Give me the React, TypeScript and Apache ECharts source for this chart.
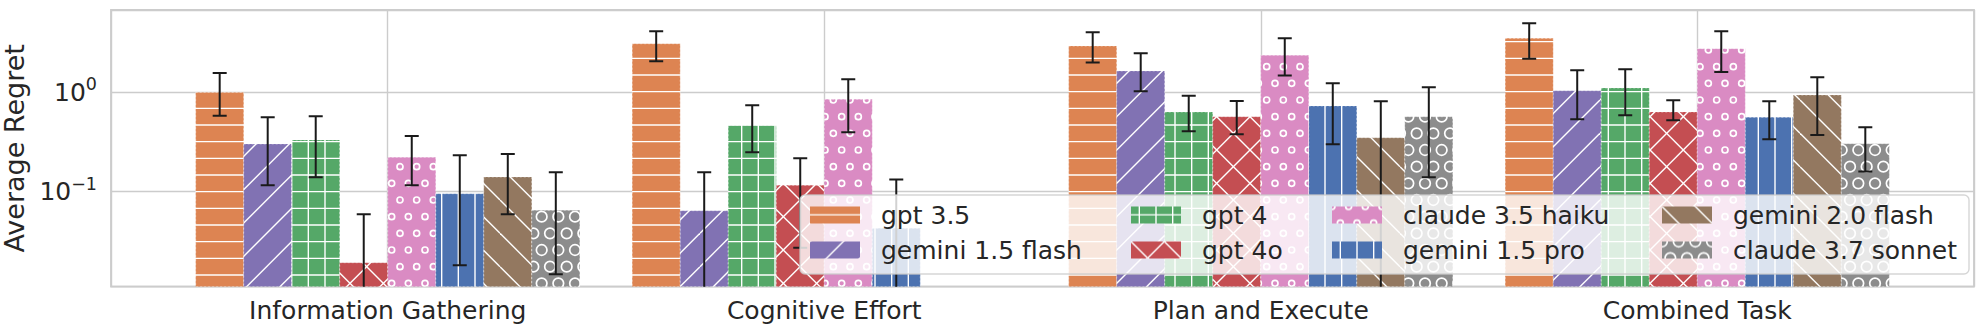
import React, { useEffect, useRef } from 'react';
import * as echarts from 'echarts';

// ---------- data ----------
const categories = ['Information Gathering', 'Cognitive Effort', 'Plan and Execute', 'Combined Task'];
const models = [
  'gpt 3.5',
  'gemini 1.5 flash',
  'gpt 4',
  'gpt 4o',
  'claude 3.5 haiku',
  'gemini 1.5 pro',
  'gemini 2.0 flash',
  'claude 3.7 sonnet',
];

// mean regret per category, and lower / upper ends of the error bars (null = below axis / absent)
const gpt35 = [1.0, 3.08, 2.92, 3.49];
const gpt35Low = [0.581, 2.05, 2.0, 2.18];
const gpt35High = [1.564, 4.11, 4.01, 4.95];

const gemini15Flash = [0.302, 0.0644, 1.638, 1.038];
const gemini15FlashLow = [0.116, null, 1.023, 0.535];
const gemini15FlashHigh = [0.56, 0.1567, 2.47, 1.664];

const gpt4 = [0.331, 0.466, 0.633, 1.105];
const gpt4Low = [0.1396, 0.249, 0.405, 0.587];
const gpt4High = [0.574, 0.74, 0.924, 1.704];

const gpt4o = [0.0193, 0.116, 0.568, 0.633];
const gpt4oLow = [null, 0.0273, 0.378, 0.523];
const gpt4oHigh = [0.0592, 0.217, 0.818, 0.831];

const claude35Haiku = [0.222, 0.85, 2.36, 2.75];
const claude35HaikuLow = [0.116, 0.396, 1.48, 1.6];
const claude35HaikuHigh = [0.363, 1.351, 3.49, 4.11];

const gemini15Pro = [0.0955, 0.0428, 0.728, 0.56];
const gemini15ProLow = [0.0182, null, 0.3, 0.337];
const gemini15ProHigh = [0.2323, 0.133, 1.232, 0.812];

const gemini20Flash = [0.1406, null, 0.349, 0.939];
const gemini20FlashLow = [0.0592, null, null, 0.372];
const gemini20FlashHigh = [0.2396, null, 0.812, 1.416];

const claude37Sonnet = [0.065, null, 0.568, 0.304];
const claude37SonnetLow = [0.01476, null, 0.1396, 0.16];
const claude37SonnetHigh = [0.1567, null, 1.123, 0.445];

// ---------- styling ----------
const FONT = "'DejaVu Sans', sans-serif";
const TEXT = '#262626';
const GRID = '#cccccc';
const ERR = '#1a1a1a';
const BAR_W = 0.11;
const X_MIN = -0.634;
const X_MAX = 3.634;
const Y_MIN = 0.01107;
const Y_MAX = 6.73;

function makePattern(kind: string, color: string) {
  const s = 100 / 6;
  const o = s / 2;
  const d = 100 / 3;
  let body = '';
  const line = (x1: number, y1: number, x2: number, y2: number) =>
    `<line x1="${x1.toFixed(2)}" y1="${y1.toFixed(2)}" x2="${x2.toFixed(2)}" y2="${y2.toFixed(2)}"/>`;
  if (kind === 'h' || kind === 'plus') {
    for (let k = -1; k <= 6; k++) body += line(0, o + k * s, 100, o + k * s);
  }
  if (kind === 'v' || kind === 'plus') {
    for (let k = -1; k <= 6; k++) body += line(o + k * s, 0, o + k * s, 100);
  }
  if (kind === 'ne' || kind === 'x') {
    for (let c = -3; c <= 3; c++) body += line(0, 100 - d * c, 100, -d * c);
  }
  if (kind === 'se' || kind === 'x') {
    for (let c = 0; c <= 6; c++) body += line(0, 100 - d * c, 100, 200 - d * c);
  }
  let circles = '';
  if (kind === 'o' || kind === 'O') {
    const r = kind === 'o' ? 3.0 : 5.3;
    for (let row = 0; row <= 6; row++) {
      const y = 100 - row * s;
      if (row % 2 === 0) {
        for (let k = 0; k <= 6; k++) circles += `<circle cx="${(k * s).toFixed(2)}" cy="${y.toFixed(2)}" r="${r}"/>`;
      } else {
        for (let k = 0; k < 6; k++) circles += `<circle cx="${(o + k * s).toFixed(2)}" cy="${y.toFixed(2)}" r="${r}"/>`;
      }
    }
  }
  const svg =
    `<svg xmlns="http://www.w3.org/2000/svg" width="100" height="100">` +
    `<rect width="100" height="100" fill="${color}"/>` +
    `<g stroke="#ffffff" stroke-width="1.4" fill="none">${body}</g>` +
    `<g stroke="#ffffff" stroke-width="1.7" fill="none">${circles}</g>` +
    `</svg>`;
  return {
    image: 'data:image/svg+xml;charset=utf-8,' + encodeURIComponent(svg),
    repeat: 'repeat',
    imageWidth: 100,
    imageHeight: 100,
  };
}

const seriesDefs = [
  { name: models[0], mean: gpt35, low: gpt35Low, high: gpt35High, color: '#DD8452', hatch: 'h' },
  { name: models[1], mean: gemini15Flash, low: gemini15FlashLow, high: gemini15FlashHigh, color: '#8172B3', hatch: 'ne' },
  { name: models[2], mean: gpt4, low: gpt4Low, high: gpt4High, color: '#55A868', hatch: 'plus' },
  { name: models[3], mean: gpt4o, low: gpt4oLow, high: gpt4oHigh, color: '#C44E52', hatch: 'x' },
  { name: models[4], mean: claude35Haiku, low: claude35HaikuLow, high: claude35HaikuHigh, color: '#DA8BC3', hatch: 'o' },
  { name: models[5], mean: gemini15Pro, low: gemini15ProLow, high: gemini15ProHigh, color: '#4C72B0', hatch: 'v' },
  { name: models[6], mean: gemini20Flash, low: gemini20FlashLow, high: gemini20FlashHigh, color: '#937860', hatch: 'se' },
  { name: models[7], mean: claude37Sonnet, low: claude37SonnetLow, high: claude37SonnetHigh, color: '#8C8C8C', hatch: 'O' },
];

const legendColumns = [[0, 1], [2, 3], [4, 5], [6, 7]];
const legendLefts = [810, 1131, 1332, 1662];

export default function App() {
  const ref = useRef<HTMLDivElement>(null);

  useEffect(() => {
    if (!ref.current) return;
    const chart = echarts.init(ref.current, null, { renderer: 'svg' });
    const nSeries = seriesDefs.length;

    const series = seriesDefs.map((def, si) => {
      const pattern = makePattern(def.hatch, def.color);
      return {
        type: 'custom',
        name: def.name,
        clip: true,
        z: 2,
        itemStyle: { color: pattern },
        encode: { x: 0, y: 1 },
        data: categories.map((_, ci) => [ci, def.mean[ci], def.low[ci], def.high[ci]]),
        renderItem: (params: any, api: any) => {
          const c = Number(api.value(0));
          const v = Number(api.value(1));
          const lo = Number(api.value(2));
          const hi = Number(api.value(3));
          const children: any[] = [];
          if (!isFinite(v) || v <= 0) return { type: 'group', children };
          const xc = c + (si - (nSeries - 1) / 2) * BAR_W;
          const tl = api.coord([xc - BAR_W / 2, v]);
          const br = api.coord([xc + BAR_W / 2, Y_MIN]);
          children.push({
            type: 'rect',
            shape: { x: tl[0], y: tl[1], width: br[0] - tl[0], height: br[1] - tl[1] },
            style: { fill: pattern, stroke: 'rgba(255,255,255,0.45)', lineWidth: 1, lineDash: [2, 2] },
          });
          if (isFinite(hi) && hi > 0) {
            const top = api.coord([xc, hi]);
            const hasLo = isFinite(lo) && lo > 0;
            const bot = api.coord([xc, hasLo ? lo : Y_MIN / 10]);
            children.push({
              type: 'line',
              shape: { x1: top[0], y1: top[1], x2: bot[0], y2: bot[1] },
              style: { stroke: ERR, lineWidth: 2 },
            });
            children.push({
              type: 'line',
              shape: { x1: top[0] - 7, y1: top[1], x2: top[0] + 7, y2: top[1] },
              style: { stroke: ERR, lineWidth: 2 },
            });
            if (hasLo) {
              children.push({
                type: 'line',
                shape: { x1: bot[0] - 7, y1: bot[1], x2: bot[0] + 7, y2: bot[1] },
                style: { stroke: ERR, lineWidth: 2 },
              });
            }
          }
          return { type: 'group', children };
        },
      };
    });

    const option: any = {
      animation: false,
      backgroundColor: '#ffffff',
      grid: {
        left: 111,
        right: 10,
        top: 10,
        bottom: 47.3,
        show: true,
        borderColor: GRID,
        borderWidth: 1.8,
        backgroundColor: '#ffffff',
        containLabel: false,
        outerBoundsMode: 'none',
      },
      xAxis: {
        type: 'value',
        min: X_MIN,
        max: X_MAX,
        splitNumber: 4,
        axisLine: { show: false },
        axisTick: { show: false },
        splitLine: { show: true, lineStyle: { color: GRID, width: 1.4 } },
        axisLabel: {
          margin: 11,
          fontSize: 25,
          fontFamily: FONT,
          color: TEXT,
          showMinLabel: false,
          showMaxLabel: false,
          formatter: (v: number) => {
            const r = Math.round(v);
            if (Math.abs(v - r) > 1e-6 || r < 0 || r >= categories.length) return '';
            return categories[r];
          },
        },
      },
      yAxis: {
        type: 'log',
        logBase: 10,
        min: Y_MIN,
        max: Y_MAX,
        name: 'Average Regret',
        nameLocation: 'middle',
        nameGap: 70,
        nameTextStyle: { fontSize: 27, fontFamily: FONT, color: TEXT },
        axisLine: { show: false },
        axisTick: { show: false },
        minorTick: { show: false },
        splitLine: { show: true, lineStyle: { color: GRID, width: 1.4 } },
        axisLabel: {
          margin: 14,
          color: TEXT,
          fontFamily: FONT,
          formatter: (v: number) => {
            const e = Math.log10(v);
            const r = Math.round(e);
            if (Math.abs(e - r) > 1e-6) return '';
            const exp = r < 0 ? '\u2212' + -r : String(r);
            return `{b|10}{s|${exp}}`;
          },
          rich: {
            b: { fontSize: 25, fontFamily: FONT, color: TEXT, lineHeight: 34 },
            s: { fontSize: 17.5, fontFamily: FONT, color: TEXT, lineHeight: 17.5, verticalAlign: 'top' },
          },
        },
      },
      legend: legendColumns.map((col, i) => ({
        orient: 'vertical',
        left: legendLefts[i],
        top: 202.5,
        padding: 0,
        itemGap: 10,
        itemWidth: 50,
        itemHeight: 17,
        icon: 'rect',
        selectedMode: false,
        data: col.map((j) => models[j]),
        textStyle: { fontSize: 25, fontFamily: FONT, color: TEXT, lineHeight: 25, padding: [0, 0, 0, 16] },
      })),
      graphic: [
        {
          type: 'rect',
          z: 3,
          shape: { x: 800, y: 195, width: 1169, height: 79, r: 5 },
          style: { fill: 'rgba(255,255,255,0.8)', stroke: 'rgba(204,204,204,0.8)', lineWidth: 1.4 },
        },
      ],
      series,
    };

    chart.setOption(option);
    return () => chart.dispose();
  }, []);

  return (
    <div
      ref={ref}
      style={{ position: 'fixed', left: 0, top: 0, width: 1984, height: 334, background: '#fff' }}
    />
  );
}
